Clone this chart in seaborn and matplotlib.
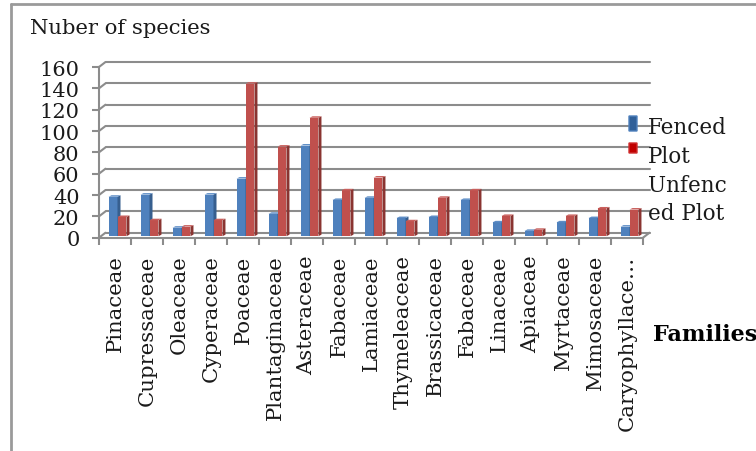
import matplotlib
matplotlib.use("Agg")
import matplotlib.pyplot as plt
import pandas as pd
import seaborn as sns
from matplotlib.lines import Line2D
from matplotlib.patches import FancyBboxPatch, Polygon
from matplotlib.transforms import ScaledTranslation

families = ["Pinaceae", "Cupressaceae", "Oleaceae", "Cyperaceae", "Poaceae",
            "Plantaginaceae", "Asteraceae", "Fabaceae", "Lamiaceae", "Thymeleaceae",
            "Brassicaceae", "Fabaceae", "Linaceae", "Apiaceae", "Myrtaceae",
            "Mimosaceae", "Caryophyllace…"]
fenced = [37, 39, 8, 39, 54, 21, 85, 34, 36, 17, 18, 34, 13, 5, 13, 17, 9]
unfenced = [18, 15, 9, 15, 143, 84, 111, 43, 55, 14, 36, 43, 19, 6, 19, 26, 25]
y_ticks = [0, 20, 40, 60, 80, 100, 120, 140, 160]

BLUE, RED = "#4F81BD", "#C0504D"
BLUE_D, RED_D = "#375F8F", "#8A3431"
BLUE_L, RED_L = "#5F8EC6", "#C9605D"
GRID = "#8C8C8C"
FONT = "DejaVu Serif"

sns.set_theme(style="white")
plt.rcParams["font.family"] = [FONT]

W, H = 756, 452
fig = plt.figure(figsize=(W / 100, H / 100), dpi=100, facecolor="white")
ax = fig.add_axes([99 / W, (H - 238.7) / H, 544 / W, 170.7 / H])
ax.patch.set_alpha(0)

n = len(families)
df = pd.DataFrame({
    "pos": list(range(n)) * 2,
    "species": fenced + unfenced,
    "plot": ["Fenced Plot"] * n + ["Unfenced Plot"] * n,
})
sns.barplot(data=df, x="pos", y="species", hue="plot",
            palette=[BLUE, RED], width=0.56, gap=0, legend=False,
            saturation=1, linewidth=0, ax=ax, zorder=3)
ax.set_xlim(-0.5, n - 0.5)
ax.set_ylim(0, 160)

# pixel sizes expressed in data units
px_x = n / 544
px_y = 160 / 170.7
wall_dx, wall_dy = 6.5 * px_x, 5 * px_y
bar_dx, bar_dy = 3 * px_x, 1.5 * px_y
shift = ScaledTranslation(2.5 / 100, 1.5 / 100, fig.dpi_scale_trans)

# back wall grid lines and their side-wall diagonals
for v in y_ticks:
    ax.plot([-0.5 + wall_dx, n - 0.5 + wall_dx], [v + wall_dy, v + wall_dy],
            color=GRID, lw=1.5, clip_on=False, zorder=1)
    ax.plot([-0.5, -0.5 + wall_dx], [v, v + wall_dy],
            color=GRID, lw=1.5, clip_on=False, zorder=1)
ax.plot([n - 0.5, n - 0.5 + wall_dx], [0, wall_dy],
        color=GRID, lw=1.5, clip_on=False, zorder=1)

# extruded side and top faces taken from the drawn bars
bars = [p for p in list(ax.patches) if p.get_height() > 0]
for p in bars:
    x0, w, h = p.get_x(), p.get_width(), p.get_height()
    is_blue = matplotlib.colors.to_hex(p.get_facecolor()).upper() == BLUE.upper()
    dark = BLUE_D if is_blue else RED_D
    light = BLUE_L if is_blue else RED_L
    z = 3 if is_blue else 4
    p.set_zorder(z)
    p.set_transform(ax.transData + shift)
    p.set_clip_on(False)
    side = Polygon([(x0 + w, 0), (x0 + w + bar_dx, bar_dy),
                    (x0 + w + bar_dx, h + bar_dy), (x0 + w, h)],
                   closed=True, fc=dark, ec="none", zorder=z,
                   transform=ax.transData + shift, clip_on=False)
    top = Polygon([(x0, h), (x0 + bar_dx, h + bar_dy),
                   (x0 + w + bar_dx, h + bar_dy), (x0 + w, h)],
                  closed=True, fc=light, ec="none", zorder=z,
                  transform=ax.transData + shift, clip_on=False)
    ax.add_patch(side)
    ax.add_patch(top)

# axes
for s in ["top", "right"]:
    ax.spines[s].set_visible(False)
for s in ["left", "bottom"]:
    ax.spines[s].set_color(GRID)
    ax.spines[s].set_linewidth(1.5)
    ax.spines[s].set_zorder(5)

ax.set_xlabel("")
ax.set_ylabel("")
ax.set_yticks(y_ticks)
ax.set_yticklabels([str(v) for v in y_ticks], fontsize=15, color="#1a1a1a")
ax.set_xticks([i - 0.5 for i in range(n + 1)])
ax.set_xticklabels([""] * (n + 1))
ax.set_xticks(range(n), minor=True)
ax.set_xticklabels(families, minor=True, rotation=90, fontsize=15.3,
                   color="#1a1a1a", va="top", ha="center")
ax.tick_params(axis="x", which="major", length=5, width=1.5, color=GRID, bottom=True)
ax.tick_params(axis="x", which="minor", length=0, pad=12)
ax.tick_params(axis="y", length=5, width=1.5, color=GRID, left=True, pad=9)

# outer chart frame
fig.add_artist(Line2D([11 / W, 11 / W], [0, 1 - 5 / H], color="#9A9A9A", lw=2))
fig.add_artist(Line2D([11 / W, 1], [1 - 5 / H, 1 - 5 / H], color="#9A9A9A", lw=2))

# titles
fig.text(30 / W, 1 - 28 / H, "Nuber of species", fontsize=15.2, color="#1a1a1a",
         ha="left", va="center")
fig.text(653 / W, 1 - 335 / H, "Families", fontsize=16, fontweight="bold",
         color="black", ha="left", va="center")

# legend keys and wrapped labels
fig.add_artist(FancyBboxPatch((629 / W, 1 - 132 / H), 8 / W, 15 / H,
                              boxstyle="round,pad=0", fc="#2F5F98", ec="#4F81BD",
                              lw=1, transform=fig.transFigure))
fig.add_artist(FancyBboxPatch((629 / W, 1 - 154 / H), 8 / W, 10 / H,
                              boxstyle="round,pad=0", fc="#C00000", ec="#D03030",
                              lw=1, transform=fig.transFigure))
for label, y in zip(["Fenced", "Plot", "Unfenc", "ed Plot"], [128, 157, 186, 214]):
    fig.text(648 / W, 1 - y / H, label, fontsize=15.5, color="#1a1a1a",
             ha="left", va="center")

fig.savefig("out.png", dpi=100, facecolor="white")
